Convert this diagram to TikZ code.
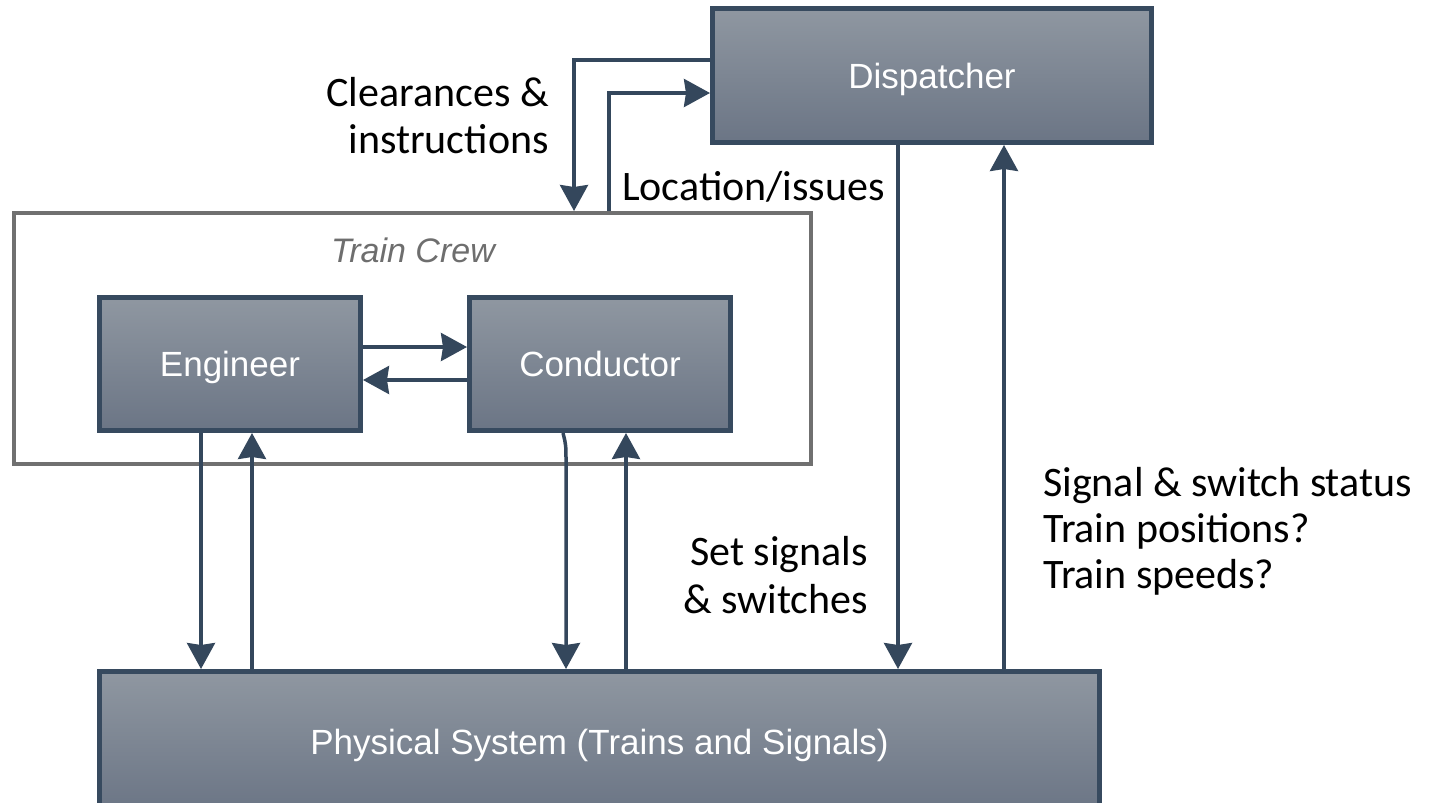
\documentclass[tikz,border=0pt]{standalone}
\usepackage{fontspec}
\setmainfont{Carlito}
\newfontfamily\boxfont{Liberation Sans}
\usetikzlibrary{arrows.meta}
\definecolor{boxtop}{HTML}{8F97A1}
\definecolor{boxbot}{HTML}{6B7585}
\definecolor{boxline}{HTML}{374A5F}
\definecolor{wire}{HTML}{34475C}
\definecolor{crewline}{HTML}{707070}
\definecolor{crewtext}{HTML}{6E6E6E}

\begin{document}
\begin{tikzpicture}[x=1pt,y=-1pt,
  unit/.style={draw=boxline, line width=5pt, top color=boxtop, bottom color=boxbot,
    inner sep=0pt, text=white, font=\boxfont\fontsize{35}{40}\selectfont,
    text height=25pt, text depth=0pt},
  group/.style={draw=crewline, line width=4pt, inner sep=0pt},
  flow/.style={draw=wire, line width=3.5pt, -{Stealth[length=26pt,width=28pt,inset=2pt]}},
  lbl/.style={font=\fontsize{42}{47}\selectfont, inner sep=0pt}]

\useasboundingbox (0,0) rectangle (1435,803);
\clip (0,0) rectangle (1435,803);

% train crew group frame
\node[group, minimum width=797pt, minimum height=251pt] (crew) at (412.5,338.5) {};
\node[font=\boxfont\itshape\fontsize{34}{40}\selectfont, text=crewtext, anchor=base, inner sep=0pt]
  (crewname) at (413,262) {Train Crew};

% main units
\node[unit, minimum width=439pt, minimum height=134pt] (disp) at (932,75.5) {Dispatcher};
\node[unit, minimum width=261pt, minimum height=133pt] (eng) at (230,364) {Engineer};
\node[unit, minimum width=261pt, minimum height=133pt] (con) at (600,364) {Conductor};
\node[unit, minimum width=1000pt, minimum height=140pt] (phys) at (599.5,741.5)
  {Physical System (Trains and Signals)};

% crew internal exchange
\draw[flow] ([yshift=17pt]eng.east) -- ([yshift=17pt]con.west);
\draw[flow] ([yshift=-16pt]con.west) -- ([yshift=-16pt]eng.east);

% dispatcher <-> crew
\draw[flow] ([yshift=15.5pt]disp.west) -| ([xshift=161.5pt]crew.north);
\draw[flow] ([xshift=196.5pt]crew.north) |- ([yshift=-17.5pt]disp.west);

% crew <-> physical system
\draw[flow] ([xshift=-29pt]eng.south) -- ([xshift=-29pt]eng.south |- phys.north);
\draw[flow] ([xshift=22pt]eng.south |- phys.north) -- ([xshift=22pt]eng.south);
\draw[flow] ([xshift=-37pt]con.south) .. controls ([xshift=-34pt,yshift=-12pt]con.south)
  .. ([xshift=-34pt,yshift=-30pt]con.south) -- ([xshift=-34pt]con.south |- phys.north);
\draw[flow] ([xshift=26pt]con.south |- phys.north) -- ([xshift=26pt]con.south);

% dispatcher <-> physical system
\draw[flow] ([xshift=-34pt]disp.south) -- ([xshift=-34pt]disp.south |- phys.north);
\draw[flow] ([xshift=72pt]disp.south |- phys.north) -- ([xshift=72pt]disp.south);

% flow labels
\node[lbl, anchor=base east] (clr1) at (549,106) {Clearances \&};
\node[lbl, anchor=base east] (clr2) at (549,153) {instructions};
\node[lbl, anchor=base west] (loc) at (622,200) {Location/issues};
\node[lbl, anchor=base east] (set1) at (868,565) {Set signals};
\node[lbl, anchor=base east] (set2) at (868,613) {\& switches};
\node[lbl, anchor=base west] (st1) at (1043,496) {Signal \& switch status};
\node[lbl, anchor=base west] (st2) at (1043,542) {Train positions?};
\node[lbl, anchor=base west] (st3) at (1043,588) {Train speeds?};
\end{tikzpicture}
\end{document}
